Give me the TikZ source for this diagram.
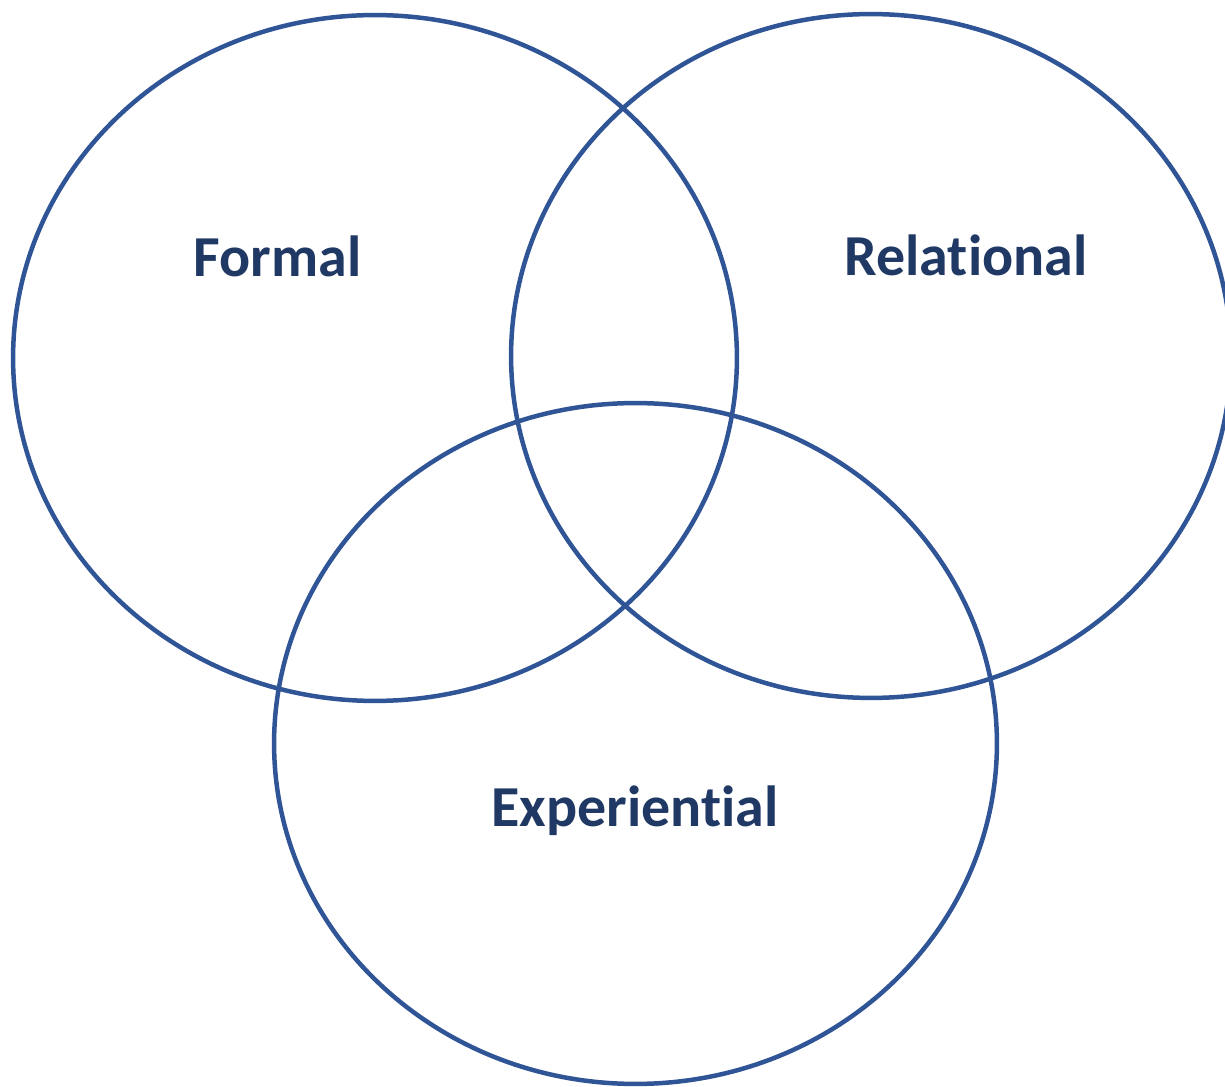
\documentclass[tikz,border=0pt]{standalone}
\usepackage{fontspec}
\setmainfont{Carlito}[Ligatures=NoCommon]
\usetikzlibrary{shapes.geometric}
\definecolor{setline}{HTML}{2F5597}
\definecolor{settext}{HTML}{203864}

\begin{document}
\begin{tikzpicture}[x=0.02cm,y=-0.02cm]
  \tikzset{set/.style = {shape=ellipse,draw=setline,line width=0.09cm,inner sep=0pt}}
  \tikzset{setname/.style = {anchor=base,text=settext,inner sep=0pt,font=\fontsize{33}{40}\selectfont\bfseries}}
  \useasboundingbox (0,0) rectangle (1225,1087);

	\node[set,minimum width=14.48cm,minimum height=13.72cm] (F) at (375,358) {};
	\node[set,minimum width=14.40cm,minimum height=13.68cm] (R) at (871,356) {};
	\node[set,minimum width=14.46cm,minimum height=13.62cm] (E) at (635.5,743.5) {};

	\node[setname] (Ft) at (277.5,277) {Formal};
	\node[setname] (Rt) at (966,276) {Relational};
	\node[setname] (Et) at (635,827) {Experiential};

\end{tikzpicture}
\end{document}
